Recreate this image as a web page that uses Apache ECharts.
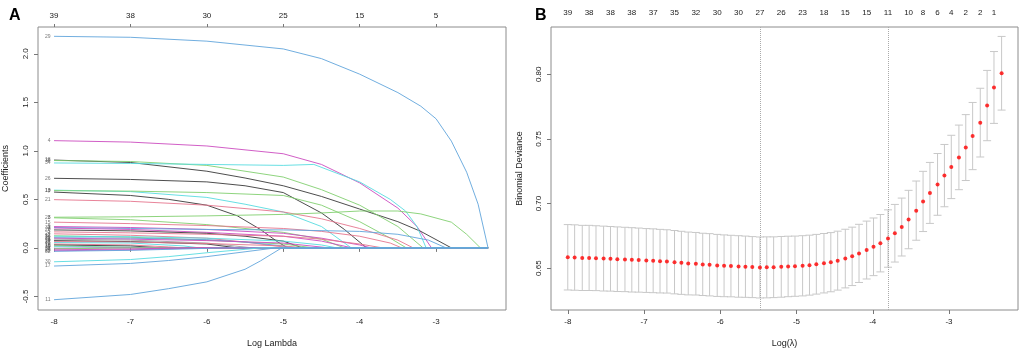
<!DOCTYPE html>
<html>
<head>
<meta charset="utf-8">
<script src="https://cdn.jsdelivr.net/npm/echarts@6/dist/echarts.min.js"></script>
<style>
  html, body { margin: 0; padding: 0; background: #fff; }
  #chart { width: 1021px; height: 353px; }
</style>
</head>
<body>
<div id="chart"></div>
<script>
// ---- panel A: lasso coefficient paths ----
var xTicks = [-8, -7, -6, -5, -4, -3]
var topLabelsA = ['39', '38', '30', '25', '15', '5']
var yTicksA = [-0.5, 0, 0.5, 1, 1.5, 2]
var lamEndA = -2.32

var pal = {
  black: '#3a3a3a',
  pink: '#e5758e',
  green: '#82cf70',
  blue: '#62a5dc',
  cyan: '#58dbe0',
  magenta: '#cc4cc0',
  gray: '#9e9e9e'
}

// variable id, colour, [logLambda, coefficient] pairs
var varIds = ['29', '4', '18', '38', '34', '26', '10', '13', '7', '21', '28', '3', '15', '9', '33', '1', '20', '5', '24', '12',
  '36', '22', '31', '6', '14', '27', '35', '2', '19', '16', '39', '8', '37', '23', '25', '32', '30', '17', '11']
var varColors = ['blue', 'magenta', 'black', 'green', 'cyan', 'black', 'cyan', 'green', 'black', 'pink', 'green', 'green', 'pink',
  'magenta', 'blue', 'magenta', 'black', 'pink', 'pink', 'green', 'cyan', 'blue', 'magenta', 'gray', 'black', 'pink', 'cyan',
  'pink', 'black', 'green', 'cyan', 'magenta', 'green', 'magenta', 'magenta', 'blue', 'cyan', 'blue', 'blue']
var coefPaths = [
  [[-8, 2.18], [-7, 2.17], [-6, 2.13], [-5, 2.05], [-4.5, 1.95], [-4, 1.79], [-3.5, 1.6], [-3.2, 1.46], [-3, 1.33], [-2.8, 1.1], [-2.6, 0.78], [-2.45, 0.45], [-2.32, 0]],
  [[-8, 1.105], [-7, 1.09], [-6, 1.05], [-5, 0.97], [-4.5, 0.86], [-4, 0.67], [-3.5, 0.41], [-3.25, 0.22], [-3.06, 0]],
  [[-8, 0.905], [-7, 0.88], [-6, 0.79], [-5.5, 0.72], [-5, 0.64], [-4.5, 0.53], [-4, 0.4], [-3.5, 0.27], [-3.2, 0.17], [-2.8, 0]],
  [[-8, 0.9], [-7, 0.89], [-6, 0.85], [-5, 0.73], [-4.5, 0.6], [-4, 0.44], [-3.5, 0.22], [-3.17, 0]],
  [[-8, 0.875], [-7, 0.87], [-6, 0.86], [-5, 0.85], [-4.6, 0.86], [-4, 0.68], [-3.6, 0.5], [-3.4, 0.38], [-3.25, 0.22], [-3.13, 0]],
  [[-8, 0.717], [-7, 0.705], [-6, 0.68], [-5.5, 0.64], [-5, 0.57], [-4.5, 0.36], [-4.2, 0.19], [-3.91, 0]],
  [[-8, 0.595], [-7, 0.58], [-6, 0.52], [-5.5, 0.45], [-5, 0.37], [-4.5, 0.22], [-4.11, 0]],
  [[-8, 0.59], [-7, 0.585], [-6, 0.57], [-5, 0.54], [-4.5, 0.44], [-4, 0.27], [-3.6, 0.1], [-3.39, 0]],
  [[-8, 0.575], [-7, 0.54], [-6.5, 0.5], [-6, 0.44], [-5.6, 0.33], [-5.3, 0.19], [-5.07, 0.06], [-4.94, 0]],
  [[-8, 0.497], [-7, 0.48], [-6, 0.44], [-5, 0.37], [-4.5, 0.3], [-4, 0.2], [-3.5, 0.08], [-3.3, 0]],
  [[-8, 0.316], [-7, 0.32], [-6, 0.33], [-5, 0.345], [-4.5, 0.36], [-4, 0.38], [-3.5, 0.38], [-3.2, 0.35], [-2.8, 0.265], [-2.6, 0.14], [-2.42, 0]],
  [[-8, 0.31], [-7, 0.29], [-6, 0.24], [-5, 0.16], [-4.5, 0.09], [-4.2, 0]],
  [[-8, 0.265], [-7, 0.25], [-6, 0.23], [-5, 0.2], [-4.5, 0.17], [-4, 0.12], [-3.6, 0.05], [-3.45, 0]],
  [[-8, 0.22], [-7, 0.21], [-6, 0.19], [-5, 0.15], [-4.5, 0.1], [-4, 0.03], [-3.85, 0]],
  [[-8, 0.21], [-7, 0.2], [-6, 0.19], [-5, 0.185], [-4, 0.17], [-3.5, 0.14], [-3.1, 0.08], [-2.87, 0]],
  [[-8, 0.205], [-7, 0.19], [-6, 0.16], [-5, 0.12], [-4.5, 0.07], [-4.1, 0]],
  [[-8, 0.185], [-7, 0.175], [-6, 0.15], [-5.5, 0.12], [-5, 0.07], [-4.75, 0]],
  [[-8, 0.165], [-7, 0.155], [-6, 0.14], [-5, 0.12], [-4.5, 0.09], [-4, 0.04], [-3.7, 0]],
  [[-8, 0.145], [-7, 0.13], [-6, 0.1], [-5.5, 0.06], [-4.9, 0]],
  [[-8, 0.125], [-7, 0.11], [-6, 0.08], [-5, 0.04], [-4.6, 0]],
  [[-8, 0.12], [-7, 0.115], [-6, 0.1], [-5, 0.07], [-4.5, 0.03], [-4.3, 0]],
  [[-8, 0.105], [-7, 0.1], [-6, 0.085], [-5.5, 0.06], [-5, 0.02], [-4.85, 0]],
  [[-8, 0.1], [-7, 0.09], [-6, 0.075], [-5, 0.05], [-4.4, 0]],
  [[-8, 0.09], [-7, 0.08], [-6, 0.05], [-5.4, 0]],
  [[-8, 0.075], [-7, 0.065], [-6, 0.04], [-5.6, 0]],
  [[-8, 0.065], [-7, 0.06], [-6, 0.045], [-5, 0.02], [-4.7, 0]],
  [[-8, 0.055], [-7, 0.05], [-6.3, 0.02], [-6.1, 0]],
  [[-8, 0.04], [-7, 0.03], [-6.5, 0.01], [-6.3, 0]],
  [[-8, 0.03], [-7, 0.02], [-6.6, 0]],
  [[-8, 0.02], [-7.2, 0.008], [-6.8, 0]],
  [[-8, 0.012], [-7, 0.006], [-6.2, 0]],
  [[-8, -0.005], [-7.3, 0]],
  [[-8, -0.01], [-7.4, -0.004], [-6.9, 0]],
  [[-8, -0.02], [-7, -0.012], [-6.4, 0]],
  [[-8, -0.03], [-7, -0.02], [-6.4, -0.008], [-6.05, 0]],
  [[-8, -0.035], [-7, -0.025], [-6, -0.005], [-5.8, 0]],
  [[-8, -0.143], [-7, -0.12], [-6.5, -0.09], [-6, -0.05], [-5.5, -0.015], [-5.3, 0]],
  [[-8, -0.187], [-7, -0.16], [-6.5, -0.13], [-6, -0.09], [-5.5, -0.04], [-5.1, 0]],
  [[-8, -0.534], [-7, -0.48], [-6.5, -0.42], [-6, -0.35], [-5.5, -0.22], [-5.3, -0.135], [-5.02, 0]]
]

// ---- panel B: cross-validation curve ----
var lamB = [-8.00, -7.91, -7.81, -7.72, -7.63, -7.53, -7.44, -7.35, -7.25, -7.16,
  -7.07, -6.97, -6.88, -6.79, -6.70, -6.60, -6.51, -6.42, -6.32, -6.23,
  -6.14, -6.04, -5.95, -5.86, -5.76, -5.67, -5.58, -5.48, -5.39, -5.30,
  -5.20, -5.11, -5.02, -4.92, -4.83, -4.74, -4.64, -4.55, -4.46, -4.36,
  -4.27, -4.18, -4.08, -3.99, -3.90, -3.80, -3.71, -3.62, -3.53, -3.43,
  -3.34, -3.25, -3.15, -3.06, -2.97, -2.87, -2.78, -2.69, -2.59, -2.50,
  -2.41, -2.31]
var cvm = [0.6584, 0.6582, 0.6579, 0.6579, 0.6577, 0.6574, 0.6572, 0.6569, 0.6567, 0.6564,
  0.6562, 0.6559, 0.6557, 0.6554, 0.6552, 0.6546, 0.6541, 0.6536, 0.6534, 0.6529,
  0.6526, 0.6521, 0.6518, 0.6516, 0.6513, 0.6511, 0.6508, 0.6505, 0.6506, 0.6507,
  0.6510, 0.6513, 0.6515, 0.6518, 0.6523, 0.6530, 0.6538, 0.6546, 0.6558, 0.6574,
  0.6591, 0.6614, 0.6640, 0.6665, 0.6693, 0.6729, 0.6770, 0.6818, 0.6876, 0.6945,
  0.7016, 0.7082, 0.7148, 0.7216, 0.7283, 0.7357, 0.7433, 0.7522, 0.7626, 0.7758,
  0.7898, 0.8008]
var cvsd = [0.0253, 0.0253, 0.0252, 0.0252, 0.0251, 0.0251, 0.0250, 0.0250, 0.0249, 0.0249,
  0.0248, 0.0247, 0.0247, 0.0246, 0.0245, 0.0245, 0.0244, 0.0243, 0.0242, 0.0241,
  0.0241, 0.0240, 0.0239, 0.0238, 0.0238, 0.0237, 0.0236, 0.0236, 0.0236, 0.0235,
  0.0235, 0.0234, 0.0233, 0.0233, 0.0232, 0.0231, 0.0230, 0.0229, 0.0228, 0.0227,
  0.0226, 0.0225, 0.0224, 0.0223, 0.0222, 0.0222, 0.0223, 0.0224, 0.0226, 0.0229,
  0.0233, 0.0236, 0.0239, 0.0241, 0.0245, 0.0250, 0.0255, 0.0260, 0.0266, 0.0272,
  0.0278, 0.0285]
var topTicksB = [-8.00, -7.72, -7.44, -7.16, -6.88, -6.60, -6.32, -6.04, -5.76, -5.48, -5.20, -4.92,
  -4.64, -4.36, -4.08, -3.80, -3.53, -3.34, -3.15, -2.97, -2.78, -2.59, -2.41]
var topLabelsB = ['39', '38', '38', '38', '37', '35', '32', '30', '30', '27', '26', '23',
  '18', '15', '15', '11', '10', '8', '6', '4', '2', '2', '1']
var yTicksB = [0.65, 0.70, 0.75, 0.80]
var lamMin = -5.48
var lam1se = -3.80

var font = 'Liberation Sans, Arial, sans-serif'

function nearestLabel (ticks, labels, v) {
  var best = 0
  for (var i = 1; i < ticks.length; i++) {
    if (Math.abs(ticks[i] - v) < Math.abs(ticks[best] - v)) best = i
  }
  return labels[best]
}

function bottomAxis (gridIndex, name, min, max) {
  return {
    type: 'value', gridIndex: gridIndex, position: 'bottom', min: min, max: max,
    name: name, nameLocation: 'middle', nameGap: 29,
    nameTextStyle: { fontFamily: font, fontSize: 9, color: '#222' },
    axisLine: { show: false },
    axisTick: { show: true, length: 4, customValues: xTicks, lineStyle: { color: '#777' } },
    axisLabel: { customValues: xTicks, fontFamily: font, fontSize: 8, color: '#222', margin: 8,
      formatter: function (v) { return String(Math.round(v)) } },
    splitLine: { show: false }
  }
}

var series = []

// panel A lines
coefPaths.forEach(function (path, i) {
  var pts = path.slice()
  pts.push([lamEndA, 0])
  series.push({
    name: 'V' + varIds[i], type: 'line', xAxisIndex: 0, yAxisIndex: 0,
    data: pts, showSymbol: false, symbol: 'none', silent: true,
    lineStyle: { width: 1, color: pal[varColors[i]], opacity: 0.9 },
    z: 2
  })
})

// variable numbers at the left end of each path
series.push({
  type: 'scatter', xAxisIndex: 0, yAxisIndex: 0, symbolSize: 1, silent: true,
  itemStyle: { color: 'rgba(0,0,0,0)' },
  data: coefPaths.map(function (p, i) { return [p[0][0], p[0][1], varIds[i]] }),
  label: { show: true, position: 'left', distance: 3, fontSize: 5, fontFamily: font, color: '#555',
    formatter: function (p) { return p.value[2] } },
  labelLayout: { hideOverlap: false }
})

// panel B error bars
series.push({
  type: 'custom', xAxisIndex: 2, yAxisIndex: 1, silent: true, z: 2,
  data: lamB.map(function (l, i) { return [l, cvm[i] - cvsd[i], cvm[i] + cvsd[i]] }),
  encode: { x: 0, y: [1, 2] },
  renderItem: function (params, api) {
    var lo = api.coord([api.value(0), api.value(1)])
    var hi = api.coord([api.value(0), api.value(2)])
    var w = 4
    var st = { stroke: '#c8c8c8', lineWidth: 1 }
    return {
      type: 'group',
      children: [
        { type: 'line', shape: { x1: lo[0], y1: lo[1], x2: hi[0], y2: hi[1] }, style: st },
        { type: 'line', shape: { x1: hi[0] - w, y1: hi[1], x2: hi[0] + w, y2: hi[1] }, style: st },
        { type: 'line', shape: { x1: lo[0] - w, y1: lo[1], x2: lo[0] + w, y2: lo[1] }, style: st }
      ]
    }
  }
})

// panel B mean deviance points + lambda.min / lambda.1se lines
series.push({
  type: 'scatter', xAxisIndex: 2, yAxisIndex: 1, symbolSize: 4, silent: true, z: 5,
  itemStyle: { color: '#ff0000' },
  data: lamB.map(function (l, i) { return [l, cvm[i]] }),
  markLine: {
    silent: true, symbol: 'none', label: { show: false },
    lineStyle: { type: 'dotted', color: '#aaaaaa', width: 1 },
    data: [{ xAxis: lamMin }, { xAxis: lam1se }]
  }
})

var option = {
  animation: false,
  backgroundColor: '#fff',
  textStyle: { fontFamily: font },
  title: [
    { text: 'A', left: 4, top: 3, textStyle: { fontFamily: font, fontSize: 16, fontWeight: 'bold', color: '#000' } },
    { text: 'B', left: 530, top: 3, textStyle: { fontFamily: font, fontSize: 16, fontWeight: 'bold', color: '#000' } }
  ],
  grid: [
    { left: 38, top: 27, width: 468, height: 287, show: true, borderColor: '#8c8c8c', borderWidth: 1, backgroundColor: 'transparent' },
    { left: 551, top: 27, width: 467, height: 286, show: true, borderColor: '#8c8c8c', borderWidth: 1, backgroundColor: 'transparent' }
  ],
  xAxis: [
    bottomAxis(0, 'Log Lambda', -8.21, -2.085),
    {
      type: 'value', gridIndex: 0, position: 'top', min: -8.21, max: -2.085,
      axisLine: { show: false },
      axisTick: { show: true, length: 3, customValues: xTicks, lineStyle: { color: '#777' } },
      axisLabel: { customValues: xTicks, fontFamily: font, fontSize: 8, color: '#222', margin: 7,
        formatter: function (v) { return nearestLabel(xTicks, topLabelsA, v) } },
      splitLine: { show: false }
    },
    bottomAxis(1, 'Log(\u03bb)', -8.22, -2.095),
    {
      type: 'value', gridIndex: 1, position: 'top', min: -8.22, max: -2.095,
      axisLine: { show: false },
      axisTick: { show: false, customValues: topTicksB },
      axisLabel: { customValues: topTicksB, fontFamily: font, fontSize: 8, color: '#222', margin: 10,
        formatter: function (v) { return nearestLabel(topTicksB, topLabelsB, v) } },
      splitLine: { show: false }
    }
  ],
  yAxis: [
    {
      type: 'value', gridIndex: 0, min: -0.64, max: 2.276,
      name: 'Coefficients', nameLocation: 'middle', nameGap: 28, nameRotate: 90,
      nameTextStyle: { fontFamily: font, fontSize: 9, color: '#222' },
      axisLine: { show: false },
      axisTick: { show: true, length: 4, customValues: yTicksA, lineStyle: { color: '#777' } },
      axisLabel: { customValues: yTicksA, rotate: 90, fontFamily: font, fontSize: 8, color: '#222', margin: 8,
        formatter: function (v) { return v.toFixed(1) } },
      splitLine: { show: false }
    },
    {
      type: 'value', gridIndex: 1, min: 0.6176, max: 0.8366,
      name: 'Binomial Deviance', nameLocation: 'middle', nameGap: 27, nameRotate: 90,
      nameTextStyle: { fontFamily: font, fontSize: 9, color: '#222' },
      axisLine: { show: false },
      axisTick: { show: true, length: 4, customValues: yTicksB, lineStyle: { color: '#777' } },
      axisLabel: { customValues: yTicksB, rotate: 90, fontFamily: font, fontSize: 8, color: '#222', margin: 8,
        formatter: function (v) { return v.toFixed(2) } },
      splitLine: { show: false }
    }
  ],
  series: series
}

var chart = echarts.init(document.getElementById('chart'))
chart.setOption(option)
</script>
</body>
</html>
